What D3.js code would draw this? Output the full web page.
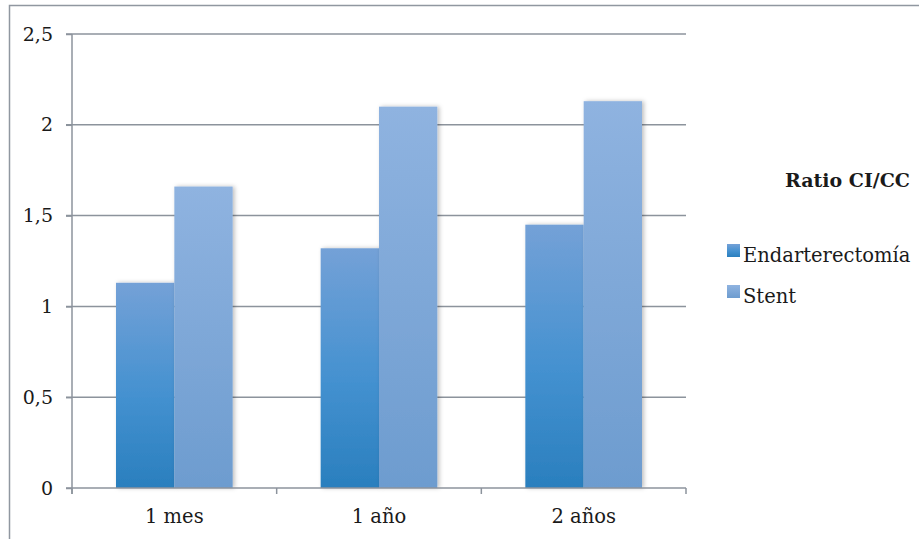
<!DOCTYPE html>
<html>
<head>
<meta charset="utf-8">
<script src="https://cdn.jsdelivr.net/npm/d3@7"></script>
<style>
  body { margin: 0; background: #fff; }
  text { font-family: "DejaVu Serif", "Liberation Serif", serif; fill: #1a1a1a; }
</style>
</head>
<body>
<div id="chart"></div>
<script>
// data
var categories = ["1 mes", "1 año", "2 años"];
var seriesNames = ["Endarterectomía", "Stent"];
var endarterectomia = [1.13, 1.32, 1.45];
var stent = [1.66, 2.10, 2.13];
var yTicks = [0, 0.5, 1, 1.5, 2, 2.5];
var legendTitle = "Ratio CI/CC";

var width = 919, height = 539;
var margin = { top: 34, right: 233, bottom: 51, left: 72 };
var plotW = width - margin.left - margin.right;
var plotH = height - margin.top - margin.bottom;
var fontSize = "19.5px";

var svg = d3.select("#chart").append("svg")
    .attr("width", width)
    .attr("height", height);

var defs = svg.append("defs");
var gradEnd = defs.append("linearGradient").attr("id", "gEnd")
    .attr("x1", 0).attr("y1", 0).attr("x2", 0).attr("y2", 1);
gradEnd.append("stop").attr("offset", "0%").attr("stop-color", "#74a1d7");
gradEnd.append("stop").attr("offset", "55%").attr("stop-color", "#4491d0");
gradEnd.append("stop").attr("offset", "100%").attr("stop-color", "#2a7fbe");
var gradStent = defs.append("linearGradient").attr("id", "gStent")
    .attr("x1", 0).attr("y1", 0).attr("x2", 0).attr("y2", 1);
gradStent.append("stop").attr("offset", "0%").attr("stop-color", "#8fb3e0");
gradStent.append("stop").attr("offset", "100%").attr("stop-color", "#6d9ccf");

var shadow = defs.append("filter").attr("id", "shadow")
    .attr("x", "-20%").attr("y", "-5%").attr("width", "140%").attr("height", "110%");
shadow.append("feDropShadow").attr("dx", 2).attr("dy", 0)
    .attr("stdDeviation", 2).attr("flood-color", "#000").attr("flood-opacity", 0.25);

// outer frame
svg.append("path")
    .attr("d", "M9.5," + height + " V5.5 H" + width)
    .attr("fill", "none")
    .attr("stroke", "#9097a0")
    .attr("stroke-width", 1.5);

var g = svg.append("g")
    .attr("transform", "translate(" + margin.left + "," + margin.top + ")");

var x0 = d3.scaleBand().domain(categories).range([0, plotW]).paddingInner(0).paddingOuter(0);
var x1 = d3.scaleBand().domain(seriesNames).range([44, x0.bandwidth() - 44]);
var y = d3.scaleLinear().domain([0, 2.5]).range([plotH, 0]);

// gridlines
g.selectAll(".grid")
    .data(yTicks.filter(d => d > 0))
    .join("line")
    .attr("x1", -6).attr("x2", plotW)
    .attr("y1", d => y(d)).attr("y2", d => y(d))
    .attr("stroke", "#8c939c")
    .attr("stroke-width", 1.5);

// bars
var rows = categories.map((c, i) => ({ cat: c, values: [endarterectomia[i], stent[i]] }));
var groups = g.selectAll(".cat")
    .data(rows)
    .join("g")
    .attr("transform", d => "translate(" + x0(d.cat) + ",0)");

groups.selectAll("rect")
    .data(d => d.values.map((v, j) => ({ name: seriesNames[j], value: v })))
    .join("rect")
    .attr("x", d => x1(d.name))
    .attr("y", d => y(d.value))
    .attr("width", x1.bandwidth())
    .attr("height", d => plotH - y(d.value))
    .attr("fill", d => d.name === "Stent" ? "url(#gStent)" : "url(#gEnd)")
    .attr("filter", "url(#shadow)");

// axes
var yAxis = g.append("g")
    .call(d3.axisLeft(y).tickValues(yTicks).tickSize(6).tickPadding(13)
        .tickFormat(d => String(d).replace(".", ",")));
yAxis.select(".domain").attr("stroke", "#8c939c").attr("stroke-width", 1.5)
    .attr("d", "M0," + (plotH + 6) + "V0");
yAxis.selectAll(".tick line").attr("stroke", "#8c939c").attr("stroke-width", 1.5);
yAxis.selectAll("text").style("font-size", "19px").attr("fill", "#1a1a1a");

var xAxis = g.append("g")
    .attr("transform", "translate(0," + plotH + ")")
    .call(d3.axisBottom(x0).tickSize(0).tickPadding(21));
xAxis.select(".domain").attr("stroke", "#8c939c").attr("stroke-width", 1.5)
    .attr("d", "M-6,0H" + plotW);
xAxis.selectAll("text").style("font-size", fontSize).attr("fill", "#1a1a1a");

// category boundary ticks
g.selectAll(".xtick")
    .data(categories.concat(["end"]))
    .join("line")
    .attr("x1", (d, i) => i * x0.bandwidth())
    .attr("x2", (d, i) => i * x0.bandwidth())
    .attr("y1", plotH).attr("y2", plotH + 6)
    .attr("stroke", "#8c939c")
    .attr("stroke-width", 1.5);

// legend
svg.append("text")
    .attr("x", 910).attr("y", 187)
    .attr("text-anchor", "end")
    .style("font-size", "19px")
    .style("font-weight", "bold")
    .text(legendTitle);

var legend = svg.selectAll(".leg")
    .data(seriesNames)
    .join("g")
    .attr("transform", (d, i) => "translate(727," + (257 + i * 41) + ")");
legend.append("rect")
    .attr("x", 0).attr("y", -13)
    .attr("width", 13).attr("height", 13)
    .attr("fill", d => d === "Stent" ? "url(#gStent)" : "url(#gEnd)");
legend.append("text")
    .attr("x", 16).attr("y", 5)
    .style("font-size", fontSize)
    .text(d => d);
</script>
</body>
</html>
